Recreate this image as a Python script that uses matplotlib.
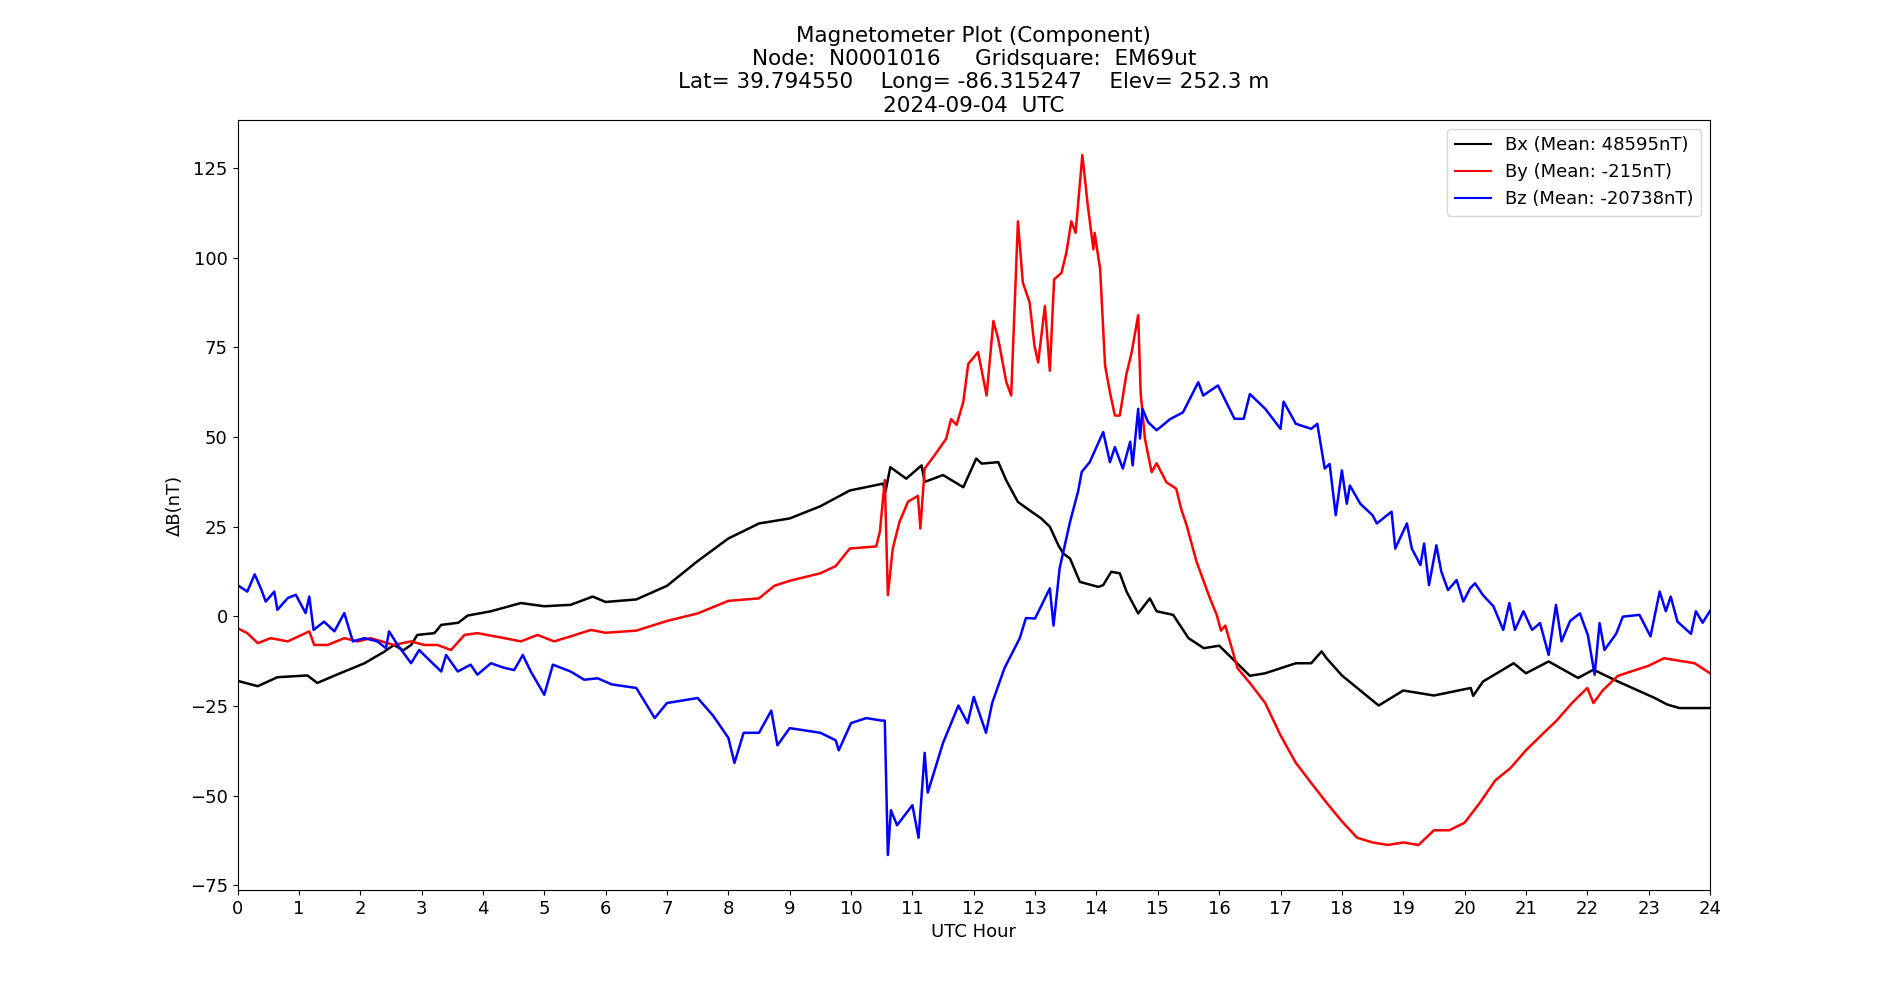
import matplotlib
matplotlib.use("Agg")
import matplotlib.pyplot as plt

# Values (UTC hour, delta nT)
bx_hours = [0, 0.33, 0.65, 1.14, 1.3, 1.63, 2.07, 2.39, 2.55, 2.7, 2.83, 2.93, 3.21, 3.32, 3.6,
            3.75, 4.13, 4.62, 5.0, 5.43, 5.79, 6.0, 6.5, 7, 7.5, 8, 8.5, 9, 9.5, 9.98, 10.52,
            10.56, 10.64, 10.9, 11.15, 11.2, 11.5, 11.83, 11.94, 12.04, 12.13, 12.4, 12.53, 12.72,
            12.94, 13.1, 13.24, 13.38, 13.46, 13.57, 13.73, 14.03, 14.11, 14.24, 14.38, 14.49,
            14.68, 14.87, 14.98, 15.25, 15.5, 15.75, 16, 16.25, 16.5, 16.75, 17, 17.25, 17.5,
            17.67, 17.75, 18, 18.25, 18.6, 19, 19.5, 20.1, 20.14, 20.3, 20.8, 21.0, 21.37, 21.85,
            22.1, 22.5, 23.1, 23.3, 23.5, 24]
bx_values = [-18.0, -19.5, -17.0, -16.5, -18.6, -16.2, -13.1, -9.9, -8.0, -9.5, -8.0, -5.2, -4.7,
             -2.4, -1.8, 0.2, 1.4, 3.7, 2.8, 3.2, 5.5, 4.0, 4.7, 8.5, 15.4, 21.7, 25.9, 27.3, 30.7,
             35.1, 37.0, 34.7, 41.6, 38.4, 42.1, 37.5, 39.4, 36.0, 40.2, 44.0, 42.6, 43.0, 37.9,
             31.9, 29.2, 27.3, 25.0, 19.8, 17.5, 16.1, 9.6, 8.2, 8.7, 12.4, 12.0, 6.9, 0.8, 5.0,
             1.4, 0.4, -6.1, -8.9, -8.2, -12.4, -16.6, -15.9, -14.5, -13.1, -13.1, -9.8, -11.7,
             -16.5, -20.0, -24.9, -20.7, -22.1, -20.0, -22.2, -18.2, -13.1, -15.9, -12.6, -17.2,
             -14.9, -18.2, -22.8, -24.6, -25.6, -25.6]

by_hours = [0, 0.16, 0.33, 0.54, 0.82, 1.17, 1.25, 1.47, 1.74, 1.96, 2.17, 2.55, 2.83, 3.04, 3.26,
            3.48, 3.7, 3.91, 4.35, 4.62, 4.89, 5.16, 5.43, 5.76, 6.0, 6.5, 7, 7.5, 8, 8.5, 8.75, 9,
            9.5, 9.75, 9.98, 10.41, 10.47, 10.55, 10.6, 10.68, 10.79, 10.93, 11.09, 11.13, 11.2,
            11.36, 11.55, 11.63, 11.72, 11.83, 11.91, 12.07, 12.21, 12.32, 12.4, 12.53, 12.61,
            12.72, 12.8, 12.91, 12.99, 13.05, 13.16, 13.24, 13.31, 13.43, 13.51, 13.59, 13.66,
            13.77, 13.86, 13.95, 13.97, 14.06, 14.14, 14.22, 14.3, 14.38, 14.49, 14.57, 14.68,
            14.72, 14.79, 14.9, 14.98, 15.14, 15.3, 15.38, 15.47, 15.63, 15.85, 15.96, 16.03, 16.1,
            16.3, 16.5, 16.75, 17, 17.25, 17.5, 17.75, 18, 18.25, 18.5, 18.75, 19, 19.25, 19.5,
            19.75, 20, 20.25, 20.5, 20.75, 21, 21.25, 21.5, 21.75, 22, 22.1, 22.25, 22.5, 22.75,
            23, 23.25, 23.5, 23.75, 24]
by_values = [-3.3, -4.7, -7.5, -6.1, -7.0, -4.2, -8.0, -8.0, -6.1, -7.0, -6.1, -8.0, -7.0, -8.0,
             -8.0, -9.4, -5.2, -4.7, -6.1, -7.0, -5.2, -7.0, -5.6, -3.8, -4.6, -4.0, -1.3, 0.8, 4.3,
             5.0, 8.5, 9.9, 12.0, 14.0, 18.9, 19.5, 23.6, 38.0, 5.9, 18.9, 26.4, 32.0, 33.6, 24.5,
             41.2, 44.9, 49.5, 55.0, 53.4, 59.8, 70.4, 73.7, 61.6, 82.4, 77.3, 65.4, 61.6, 110.2,
             93.1, 87.6, 75.4, 70.8, 86.6, 68.5, 94.0, 95.8, 101.5, 110.2, 107.0, 128.7, 114.4,
             102.4, 107.0, 96.8, 70.0, 62.5, 56.0, 56.0, 67.7, 73.3, 84.0, 62.5, 49.5, 40.2, 42.7,
             37.4, 35.6, 30.0, 25.4, 15.3, 5.0, 0.4, -4.0, -2.6, -14.5, -18.6, -24.2, -33.2, -40.9,
             -46.5, -52.0, -57.2, -61.8, -63.1, -63.8, -63.1, -63.8, -59.7, -59.7, -57.6, -52.0,
             -45.8, -42.3, -37.4, -33.2, -29.1, -24.2, -20.0, -24.2, -20.7, -16.6, -15.2, -13.8,
             -11.7, -12.4, -13.1, -15.9]

bz_hours = [0, 0.16, 0.28, 0.38, 0.46, 0.6, 0.65, 0.82, 0.95, 1.11, 1.17, 1.24, 1.41, 1.58, 1.74,
            1.88, 2.07, 2.28, 2.42, 2.47, 2.61, 2.83, 2.96, 3.15, 3.32, 3.4, 3.59, 3.8, 3.91, 4.13,
            4.35, 4.51, 4.65, 4.78, 5.0, 5.14, 5.43, 5.65, 5.87, 6.1, 6.5, 6.8, 7, 7.25, 7.5, 7.75,
            8, 8.1, 8.25, 8.5, 8.7, 8.8, 9, 9.5, 9.75, 9.8, 10, 10.25, 10.5, 10.55, 10.6, 10.65,
            10.75, 11, 11.1, 11.2, 11.25, 11.5, 11.75, 11.9, 12, 12.2, 12.3, 12.5, 12.75, 12.85, 13,
            13.24, 13.3, 13.4, 13.57, 13.7, 13.76, 13.89, 14.03, 14.11, 14.22, 14.3, 14.43, 14.55,
            14.59, 14.68, 14.71, 14.75, 14.84, 14.98, 15.2, 15.41, 15.66, 15.74, 15.98, 16.25,
            16.4, 16.5, 16.75, 17, 17.05, 17.25, 17.5, 17.6, 17.72, 17.8, 17.9, 18.0, 18.08, 18.13,
            18.3, 18.5, 18.57, 18.81, 18.87, 19.06, 19.14, 19.28, 19.34, 19.42, 19.54, 19.62,
            19.73, 19.87, 19.98, 20.09, 20.17, 20.3, 20.47, 20.63, 20.73, 20.82, 20.96, 21.1,
            21.23, 21.37, 21.49, 21.58, 21.72, 21.88, 22.01, 22.12, 22.2, 22.28, 22.47, 22.58,
            22.85, 23.03, 23.18, 23.28, 23.36, 23.47, 23.69, 23.77, 23.88, 24]
bz_values = [8.7, 6.9, 11.7, 7.8, 4.1, 6.9, 1.8, 5.1, 6.0, 0.9, 5.5, -3.8, -1.5, -4.2, 0.9, -7.0,
             -6.1, -7.0, -8.9, -4.2, -8.0, -13.1, -9.4, -12.6, -15.4, -10.8, -15.4, -13.5, -16.3,
             -13.1, -14.4, -15.0, -10.8, -15.4, -21.9, -13.5, -15.4, -17.7, -17.3, -19.0, -20.0,
             -28.4, -24.2, -23.5, -22.8, -27.7, -33.9, -40.9, -32.5, -32.5, -26.3, -36.0, -31.2,
             -32.5, -34.6, -37.4, -29.8, -28.4, -29.1, -29.1, -66.6, -54.1, -58.3, -52.7, -61.8,
             -38.1, -49.2, -35.3, -24.9, -29.8, -22.5, -32.5, -24.2, -14.5, -6.1, -0.5, -0.6, 7.8,
             -2.6, 13.4, 26.4, 34.8, 40.3, 43.0, 48.3, 51.4, 43.0, 47.2, 41.2, 48.7, 42.1, 57.9,
             49.6, 57.9, 54.2, 51.9, 55.0, 56.9, 65.3, 61.6, 64.4, 55.1, 55.1, 62.0, 57.9, 52.3,
             59.9, 53.7, 52.3, 53.7, 41.2, 42.5, 28.2, 40.7, 31.4, 36.5, 31.4, 28.2, 25.9, 29.2,
             18.9, 25.9, 18.9, 14.3, 20.3, 8.7, 19.8, 12.5, 7.3, 10.1, 4.1, 7.8, 9.2, 5.9, 2.8,
             -3.8, 3.7, -3.8, 1.4, -3.8, -1.9, -10.8, 3.2, -7.0, -1.3, 0.8, -5.3, -16.3, -1.9,
             -9.4, -4.9, -0.1, 0.4, -5.6, 6.9, 1.4, 5.5, -1.5, -4.9, 1.4, -1.8, 1.5]

series_labels = ["Bx (Mean: 48595nT)", "By (Mean: -215nT)", "Bz (Mean: -20738nT)"]
series_colors = ["black", "red", "blue"]

TITLE = ("Magnetometer Plot (Component)\n"
         "Node:  N0001016     Gridsquare:  EM69ut\n"
         "Lat= 39.794550    Long= -86.315247    Elev= 252.3 m\n"
         "2024-09-04  UTC")

fig, ax = plt.subplots(figsize=(19, 10), dpi=100)

ax.plot(bx_hours, bx_values, color=series_colors[0], linewidth=1.8, label=series_labels[0])
ax.plot(by_hours, by_values, color=series_colors[1], linewidth=1.8, label=series_labels[1])
ax.plot(bz_hours, bz_values, color=series_colors[2], linewidth=1.8, label=series_labels[2])

ax.set_xlim(0, 24)
ax.set_xticks(range(0, 25))
ax.tick_params(labelsize=13)
ax.set_xlabel("UTC Hour", fontsize=13)
ax.set_ylabel("\u0394B(nT)", fontsize=13)
ax.set_title(TITLE, fontsize=15.5)
leg = ax.legend(loc="upper right", fontsize=13)
for line in leg.get_lines():
    line.set_linewidth(1.5)

fig.savefig("out.png")
